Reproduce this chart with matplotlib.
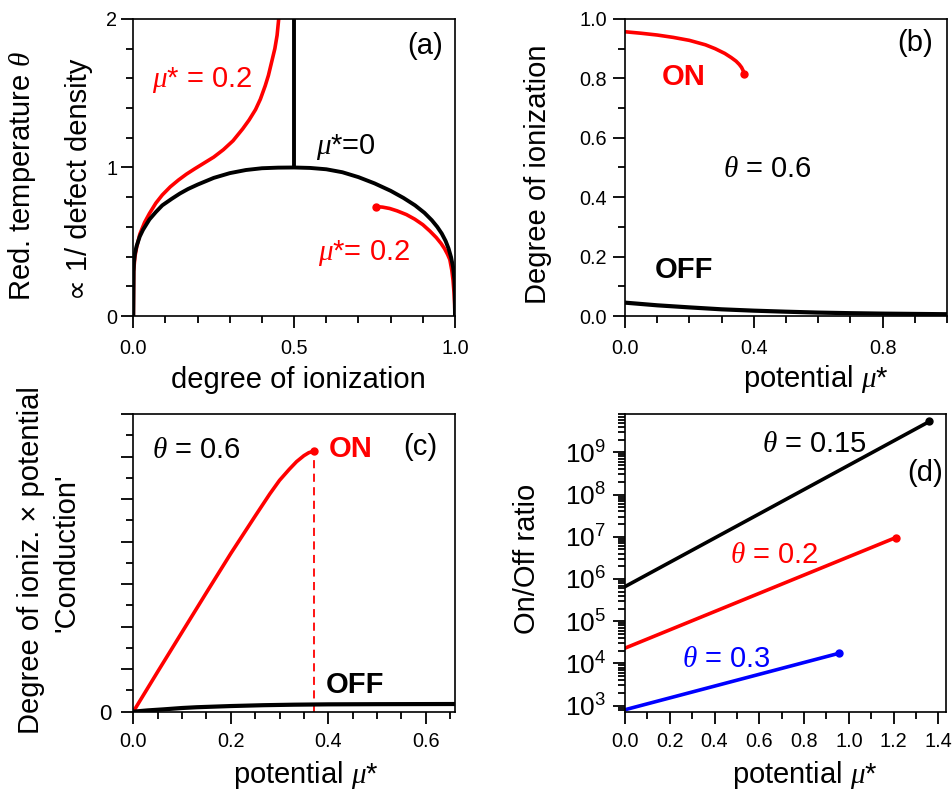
import matplotlib
matplotlib.use('Agg')
import matplotlib.pyplot as plt
from matplotlib.ticker import LogLocator, NullFormatter, FixedLocator, FixedFormatter

plt.rcParams['font.family'] = ['Liberation Sans', 'DejaVu Sans']
plt.rcParams['mathtext.fontset'] = 'custom'
plt.rcParams['mathtext.rm'] = 'Liberation Sans'
plt.rcParams['mathtext.it'] = 'Liberation Serif:italic'
plt.rcParams['mathtext.bf'] = 'Liberation Sans:bold'

# ---------------- data ----------------
# (a) phase diagram: degree of ionization vs reduced temperature
a_black_x = [0.0, 0.001, 0.002, 0.005, 0.01, 0.02, 0.03, 0.05, 0.07, 0.09, 0.12, 0.145, 0.17,
             0.2, 0.25, 0.3, 0.35, 0.4, 0.45, 0.5,
             0.55, 0.6, 0.65, 0.7, 0.75, 0.8, 0.84, 0.876, 0.905, 0.928, 0.945, 0.959, 0.971,
             0.98, 0.988, 0.994, 0.998, 0.9995, 1.0]
a_black_t = [0.0, 0.30, 0.36, 0.42, 0.47, 0.535, 0.58, 0.65, 0.70, 0.745, 0.79, 0.825, 0.855,
             0.885, 0.93, 0.962, 0.983, 0.995, 0.999, 1.0,
             0.997, 0.988, 0.968, 0.935, 0.893, 0.843, 0.795, 0.745, 0.695, 0.645, 0.60, 0.555,
             0.505, 0.455, 0.395, 0.33, 0.25, 0.15, 0.0]
a_vert_x = [0.5, 0.5]
a_vert_t = [1.0, 2.0]
a_red1_x = [0.0, 0.001, 0.005, 0.01, 0.02, 0.035, 0.05, 0.07, 0.09, 0.115, 0.14, 0.165, 0.19,
            0.22, 0.25, 0.28, 0.31, 0.34, 0.36, 0.38, 0.395, 0.41, 0.42, 0.43, 0.44, 0.447, 0.452]
a_red1_t = [0.0, 0.30, 0.40, 0.46, 0.55, 0.63, 0.69, 0.76, 0.815, 0.87, 0.915, 0.955, 0.99,
            1.03, 1.07, 1.12, 1.18, 1.26, 1.32, 1.39, 1.46, 1.55, 1.62, 1.71, 1.80, 1.89, 2.0]
a_red2_x = [0.754, 0.775, 0.797, 0.82, 0.849, 0.875, 0.90, 0.922, 0.942, 0.957, 0.968, 0.977,
            0.984, 0.99, 0.994, 0.997, 0.999, 1.0]
a_red2_t = [0.737, 0.733, 0.724, 0.708, 0.683, 0.652, 0.615, 0.572, 0.528, 0.488, 0.452, 0.415,
            0.38, 0.31, 0.24, 0.16, 0.08, 0.0]

# (b) degree of ionization vs potential, theta = 0.6
b_on_mu = [0.0, 0.05, 0.1, 0.15, 0.2, 0.25, 0.28, 0.31, 0.33, 0.345, 0.355, 0.362, 0.367, 0.37]
b_on_x = [0.957, 0.952, 0.946, 0.938, 0.928, 0.913, 0.90, 0.884, 0.87, 0.858, 0.847, 0.837,
          0.826, 0.814]
b_off_mu = [0.0, 0.1, 0.2, 0.3, 0.4, 0.5, 0.6, 0.7, 0.8, 0.9, 1.0]
b_off_x = [0.045, 0.036, 0.029, 0.0225, 0.018, 0.0145, 0.0115, 0.0095, 0.008, 0.007, 0.006]

# (c) conduction vs potential, theta = 0.6
c_on_mu = [0.0, 0.05, 0.1, 0.15, 0.2, 0.25, 0.28, 0.30, 0.32, 0.335, 0.35, 0.36, 0.371]
c_on_g = [0.0, 0.047, 0.0935, 0.14, 0.186, 0.23, 0.256, 0.272, 0.285, 0.294, 0.301, 0.3045, 0.3065]
c_off_mu = [0.0, 0.03, 0.062, 0.1, 0.13, 0.2, 0.267, 0.33, 0.4, 0.5, 0.66]
c_off_g = [0.0, 0.0015, 0.0027, 0.0043, 0.0052, 0.0066, 0.0076, 0.0082, 0.0086, 0.0088, 0.0090]

# (d) on/off ratio vs potential
d_mu_015 = [0.0, 0.6, 1.36]
d_r_015 = [6.6e5, 3.5e7, 5.4e9]
d_mu_02 = [0.0, 1.21]
d_r_02 = [2.3e4, 9.6e6]
d_mu_03 = [0.0, 0.956]
d_r_03 = [8.0e2, 1.74e4]

RED = '#ff0000'
BLUE = '#0000ff'
TICK = 14.3
LAB = 21
ANN = 21


def frange(a, b, step):
    n = int(round((b - a) / step))
    return [round(a + i * step, 6) for i in range(n + 1)]


fig = plt.figure(figsize=(9.53, 7.91), dpi=100)
axA = fig.add_axes([0.1399, 0.6005, 0.3375, 0.3755])
axB = fig.add_axes([0.6558, 0.6005, 0.3379, 0.3755])
axC = fig.add_axes([0.1399, 0.1003, 0.3375, 0.3763])
axD = fig.add_axes([0.6558, 0.1003, 0.3369, 0.3763])

# ---- (a)
axA.plot(a_red1_x, a_red1_t, color=RED, lw=2.6, solid_joinstyle='round')
axA.plot(a_red2_x, a_red2_t, color=RED, lw=2.6, solid_joinstyle='round')
axA.plot(a_red2_x[0], a_red2_t[0], 'o', color=RED, ms=5)
axA.plot(a_black_x, a_black_t, color='black', lw=2.8, solid_joinstyle='round')
axA.plot(a_vert_x, a_vert_t, color='black', lw=2.8, solid_capstyle='butt')
axA.set_xlim(0, 1.0)
axA.set_ylim(0, 2)
axA.xaxis.set_major_locator(FixedLocator([0.0, 0.5, 1.0]))
axA.xaxis.set_major_formatter(FixedFormatter(['0.0', '0.5', '1.0']))
axA.xaxis.set_minor_locator(FixedLocator(frange(0, 1.0, 0.1)))
axA.yaxis.set_major_locator(FixedLocator([0, 1, 2]))
axA.yaxis.set_major_formatter(FixedFormatter(['0', '1', '2']))
axA.yaxis.set_minor_locator(FixedLocator(frange(0, 2.0, 0.2)))
axA.text(0.907, 1.82, '(a)', fontsize=ANN, ha='center', va='center')
axA.text(0.058, 1.54, r'$\mu$* = 0.2', fontsize=ANN, color=RED, ha='left', va='baseline')
axA.text(0.568, 1.09, r'$\mu$*=0', fontsize=ANN, color='black', ha='left', va='baseline')
axA.text(0.575, 0.377, r'$\mu$*= 0.2', fontsize=ANN, color=RED, ha='left', va='baseline')
axA.text(-0.346, 0.471, r'Red. temperature $\theta$', transform=axA.transAxes, rotation=90,
         fontsize=LAB, ha='center', va='center')
axA.text(-0.169, 0.46, '\u221d 1/ defect density', transform=axA.transAxes, rotation=90,
         fontsize=LAB, ha='center', va='center')
axA.text(0.512, -0.215, 'degree of ionization', transform=axA.transAxes,
         fontsize=LAB, ha='center', va='center')

# ---- (b)
axB.plot(b_on_mu, b_on_x, color=RED, lw=2.6, solid_joinstyle='round')
axB.plot(b_on_mu[-1], b_on_x[-1], 'o', color=RED, ms=5)
axB.plot(b_off_mu, b_off_x, color='black', lw=3.0)
axB.set_xlim(0, 1.0)
axB.set_ylim(0, 1.0)
axB.xaxis.set_major_locator(FixedLocator([0.0, 0.4, 0.8]))
axB.xaxis.set_major_formatter(FixedFormatter(['0.0', '0.4', '0.8']))
axB.xaxis.set_minor_locator(FixedLocator(frange(0, 1.0, 0.1)))
axB.yaxis.set_major_locator(FixedLocator([0.0, 0.2, 0.4, 0.6, 0.8, 1.0]))
axB.yaxis.set_major_formatter(FixedFormatter(['0.0', '0.2', '0.4', '0.6', '0.8', '1.0']))
axB.yaxis.set_minor_locator(FixedLocator(frange(0, 1.0, 0.1)))
axB.text(0.902, 0.919, '(b)', fontsize=ANN, ha='center', va='center')
axB.text(0.115, 0.778, 'ON', fontsize=ANN, color=RED, fontweight='bold', ha='left', va='baseline')
axB.text(0.304, 0.468, r'$\theta$ = 0.6', fontsize=ANN, ha='left', va='baseline')
axB.text(0.093, 0.128, 'OFF', fontsize=ANN, fontweight='bold', ha='left', va='baseline')
axB.text(-0.27, 0.478, 'Degree of ionization', transform=axB.transAxes, rotation=90,
         fontsize=LAB, ha='center', va='center')
axB.text(0.593, -0.212, r'potential $\mu$*', transform=axB.transAxes,
         fontsize=LAB, ha='center', va='center')

# ---- (c)
axC.plot([c_on_mu[-1], c_on_mu[-1]], [0, c_on_g[-1]], color=RED, lw=1.3, ls=(0, (4.5, 3)))
axC.plot(c_on_mu, c_on_g, color=RED, lw=2.6, solid_joinstyle='round')
axC.plot(c_on_mu[-1], c_on_g[-1], 'o', color=RED, ms=5)
axC.plot(c_off_mu, c_off_g, color='black', lw=3.0)
axC.set_xlim(0, 0.66)
axC.set_ylim(0, 0.35)
axC.xaxis.set_major_locator(FixedLocator([0.0, 0.2, 0.4, 0.6]))
axC.xaxis.set_major_formatter(FixedFormatter(['0.0', '0.2', '0.4', '0.6']))
axC.xaxis.set_minor_locator(FixedLocator(frange(0, 0.65, 0.05)))
axC.yaxis.set_major_locator(FixedLocator(frange(0, 0.35, 0.05)))
axC.yaxis.set_major_formatter(FixedFormatter(['0'] + [''] * 7))
axC.yaxis.set_minor_locator(FixedLocator(frange(0, 0.35, 0.025)))
axC.text(0.038, 0.298, r'$\theta$ = 0.6', fontsize=ANN, ha='left', va='baseline')
axC.text(0.40, 0.2995, 'ON', fontsize=ANN, color=RED, fontweight='bold', ha='left', va='baseline')
axC.text(0.588, 0.311, '(c)', fontsize=ANN, ha='center', va='center')
axC.text(0.395, 0.022, 'OFF', fontsize=ANN, fontweight='bold', ha='left', va='baseline')
axC.text(-0.318, 0.51, 'Degree of ioniz. \u00d7 potential', transform=axC.transAxes, rotation=90,
         fontsize=LAB, ha='center', va='center')
axC.text(-0.209, 0.533, "'Conduction'", transform=axC.transAxes, rotation=90,
         fontsize=LAB, ha='center', va='center')
axC.text(0.537, -0.212, r'potential $\mu$*', transform=axC.transAxes,
         fontsize=LAB, ha='center', va='center')

# ---- (d)
axD.set_yscale('log')
axD.plot(d_mu_015, d_r_015, color='black', lw=2.6)
axD.plot(d_mu_015[-1], d_r_015[-1], 'o', color='black', ms=5)
axD.plot(d_mu_02, d_r_02, color=RED, lw=2.6)
axD.plot(d_mu_02[-1], d_r_02[-1], 'o', color=RED, ms=5)
axD.plot(d_mu_03, d_r_03, color=BLUE, lw=2.6)
axD.plot(d_mu_03[-1], d_r_03[-1], 'o', color=BLUE, ms=5)
axD.set_xlim(0, 1.434)
axD.set_ylim(720, 8.1e9)
axD.xaxis.set_major_locator(FixedLocator([0.0, 0.2, 0.4, 0.6, 0.8, 1.0, 1.2, 1.4]))
axD.xaxis.set_major_formatter(FixedFormatter(['0.0', '0.2', '0.4', '0.6', '0.8', '1.0', '1.2', '1.4']))
axD.xaxis.set_minor_locator(FixedLocator(frange(0, 1.4, 0.1)))
axD.yaxis.set_major_locator(LogLocator(base=10, numticks=20))
axD.yaxis.set_minor_locator(LogLocator(base=10, subs=(2, 3, 4, 5, 6, 7, 8, 9), numticks=20))
axD.yaxis.set_minor_formatter(NullFormatter())
axD.text(0.612, 1.0e9, r'$\theta$ = 0.15', fontsize=ANN, ha='left', va='baseline')
axD.text(1.34, 10 ** 8.51, '(d)', fontsize=ANN, ha='center', va='center')
axD.text(0.469, 10 ** 6.38, r'$\theta$ = 0.2', fontsize=ANN, color=RED, ha='left', va='baseline')
axD.text(0.255, 10 ** 3.92, r'$\theta$ = 0.3', fontsize=ANN, color=BLUE, ha='left', va='baseline')
axD.text(-0.305, 0.513, 'On/Off ratio', transform=axD.transAxes, rotation=90,
         fontsize=LAB, ha='center', va='center')
axD.text(0.561, -0.213, r'potential $\mu$*', transform=axD.transAxes,
         fontsize=LAB, ha='center', va='center')

for ax in (axA, axB, axC, axD):
    for s in ax.spines.values():
        s.set_linewidth(1.2)
    ax.tick_params(which='both', direction='out', width=1.3, labelsize=TICK,
                   top=False, right=False)
    ax.tick_params(which='major', length=8.5)
    ax.tick_params(which='minor', length=5, width=1.3)

axA.tick_params(axis='x', pad=8)
axA.tick_params(axis='y', pad=3)
axB.tick_params(axis='x', pad=8)
axB.tick_params(axis='y', pad=4.5)
axC.tick_params(axis='x', pad=6)
axC.tick_params(axis='y', pad=7, labelsize=16)
axD.tick_params(axis='x', pad=6)
axD.tick_params(axis='y', pad=5, labelsize=19)
axD.tick_params(axis='y', which='minor', length=5)

fig.savefig('out.png', dpi=100)
